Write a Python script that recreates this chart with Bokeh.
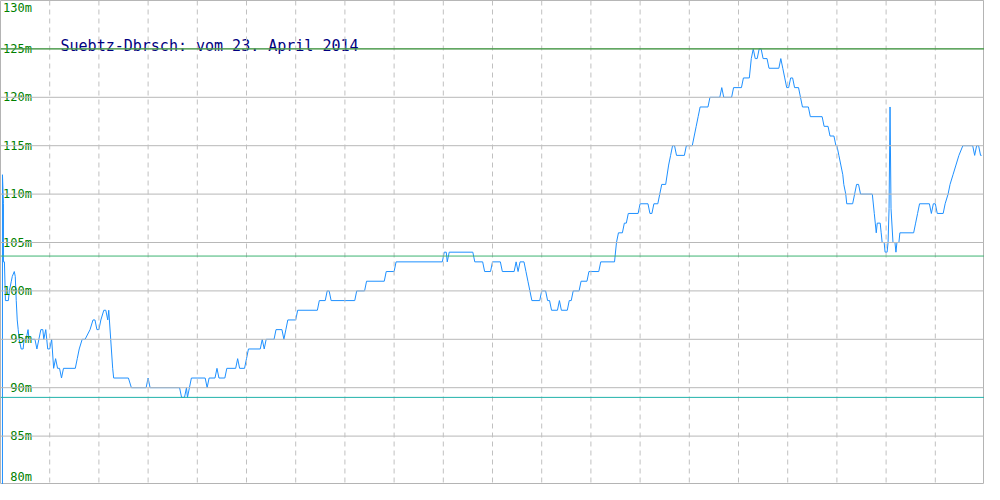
from bokeh.plotting import figure
from bokeh.models import Span, ColumnDataSource
from bokeh.core.properties import value
from bokeh.embed import file_html
from bokeh.resources import INLINE

# ---- data -------------------------------------------------------------
titel = "Suebtz-Dbrsch: vom 23. April 2014"

y_ticks = [130, 125, 120, 115, 110, 105, 100, 95, 90, 85, 80]
y_labels = ["130m", "125m", "120m", "115m", "110m", "105m", "100m", "95m", "90m", "85m", "80m"]
x_grid = [50, 100, 150, 200, 250, 300, 350, 400, 450, 500, 550, 600, 650, 700, 750, 800, 850, 900, 950]

ref_levels = [125.0, 103.6, 89.0]
ref_colors = ["#1a8c1a", "#3cb371", "#20b2aa"]

pos = [2, 2, 3, 3, 4, 5, 8, 9, 11, 12, 14, 15, 16, 17, 18, 19, 21, 23, 24, 26, 28, 29, 35, 37, 39, 41, 43, 44, 46, 48,
       50, 52, 54, 56, 58, 60, 62, 64, 76, 78, 80, 83, 86, 91, 94, 96, 98, 100, 102, 105, 107, 109, 110, 112, 114, 115,
       130, 133, 148, 150, 152, 182, 184, 187, 189, 190, 192, 194, 208, 210, 212, 218, 220, 222, 228, 230, 239, 241,
       243, 248, 250, 252, 264, 266, 268, 270, 278, 280, 286, 288, 290, 292, 300, 302, 322, 324, 330, 332, 334, 336,
       360, 362, 370, 372, 390, 392, 400, 402, 449, 451, 453, 454, 456, 480, 482, 490, 492, 498, 500, 508, 510, 522,
       524, 526, 528, 532, 534, 536, 538, 540, 548, 550, 554, 556, 558, 560, 566, 568, 570, 576, 578, 580, 582, 588,
       590, 596, 598, 608, 610, 624, 626, 628, 632, 634, 636, 638, 648, 650, 658, 660, 662, 664, 668, 670, 672, 676,
       679, 681, 683, 685, 687, 695, 697, 703, 705, 707, 709, 711, 719, 721, 731, 733, 735, 743, 745, 753, 755, 761,
       763, 765, 767, 769, 771, 773, 775, 779, 781, 791, 793, 795, 797, 799, 801, 803, 805, 807, 811, 813, 815, 821,
       823, 835, 837, 841, 843, 847, 849, 850, 852, 854, 856, 857, 859, 860, 866, 868, 870, 872, 874, 886, 888, 889,
       890, 891, 894, 895, 896, 898, 899, 901, 902, 903, 904, 905, 907, 909, 910, 911, 913, 914, 928, 930, 932, 934,
       944, 946, 948, 950, 952, 958, 960, 963, 965, 968, 971, 974, 978, 988, 990, 992, 994, 996, 997]
hoehe = [79, 112, 109, 103, 103, 99, 99, 100, 101, 101.5, 102, 101.5, 99, 97, 96, 95, 94, 94, 95, 95, 96, 95, 95, 94,
         95, 96, 96, 95, 96, 94, 94, 95, 92, 93, 92, 92, 91, 92, 92, 93, 94, 95, 95, 96, 97, 97, 96, 96, 97, 98, 98, 97,
         98, 95, 92, 91, 91, 90, 90, 91, 90, 90, 89, 89, 90, 89, 90, 91, 91, 90, 91, 91, 92, 91, 91, 92, 92, 93, 92, 92,
         93, 94, 94, 95, 94, 95, 95, 96, 96, 95, 96, 97, 97, 98, 98, 99, 99, 100, 100, 99, 99, 100, 100, 101, 101, 102,
         102, 103, 103, 104, 104, 103, 104, 104, 103, 103, 102, 102, 103, 103, 102, 102, 103, 102, 103, 103, 102, 101,
         100, 99, 99, 100, 100, 99, 99, 98, 98, 99, 98, 98, 99, 99, 100, 100, 101, 101, 102, 102, 103, 103, 105, 106,
         106, 107, 107, 108, 108, 109, 109, 108, 108, 109, 109, 110, 111, 111, 113, 114, 115, 115, 114, 114, 115, 115,
         116, 117, 118, 119, 119, 120, 120, 121, 120, 120, 121, 121, 122, 122, 124, 125, 124, 124, 125, 125, 124, 124,
         123, 123, 124, 123, 122, 121, 121, 122, 122, 121, 121, 120, 119, 119, 118, 118, 117, 117, 116, 116, 115, 115,
         114, 113, 112, 111, 110, 109, 109, 110, 111, 111, 110, 110, 108, 107, 106, 107, 107, 106, 105, 105, 104, 104,
         105, 108.5, 119, 108.5, 105, 105, 104, 105, 105, 106, 106, 107, 108, 109, 109, 108, 109, 109, 108, 108, 109,
         110, 111, 112, 113, 114, 115, 115, 114, 115, 115, 114, 114]

# ---- figure -----------------------------------------------------------
p = figure(width=984, height=484, x_range=(0, 1000), y_range=(80, 130),
           output_backend="svg", toolbar_location=None,
           x_axis_location=None, y_axis_location=None,
           min_border=0, background_fill_color="white",
           outline_line_color="#b4b4b4", outline_line_width=1)
p.xgrid.visible = False
p.ygrid.visible = False

for v in y_ticks:
    p.add_layout(Span(location=v, dimension="width", line_color="#b8b8b8", line_width=1))
for v in x_grid:
    p.add_layout(Span(location=v, dimension="height", line_color="#c0c0c0",
                      line_width=1, line_dash="5 4"))
for v, c in zip(ref_levels, ref_colors):
    p.add_layout(Span(location=v, dimension="width", line_color=c, line_width=1))

p.line(pos, hoehe, line_color="#1e90ff", line_width=1)

baselines = ["top"] + ["middle"] * (len(y_ticks) - 2) + ["bottom"]
lab_y = [v + (-0.1 if b == "top" else 0.1 if b == "bottom" else 0) for v, b in zip(y_ticks, baselines)]
src = ColumnDataSource(dict(x=[32] * len(y_ticks), y=lab_y, t=y_labels, b=baselines))
p.text(x="x", y="y", text="t", text_baseline="b", source=src, text_align="right",
       text_color="#008000", text_font=value("DejaVu Sans Mono"), text_font_size="12px")

p.text(x=[61], y=[125.3], text=[titel], text_align="left", text_baseline="middle",
       text_color="#000080", text_font=value("DejaVu Sans Mono"), text_font_size="15px")

open("out.html", "w").write(file_html(p, INLINE))
